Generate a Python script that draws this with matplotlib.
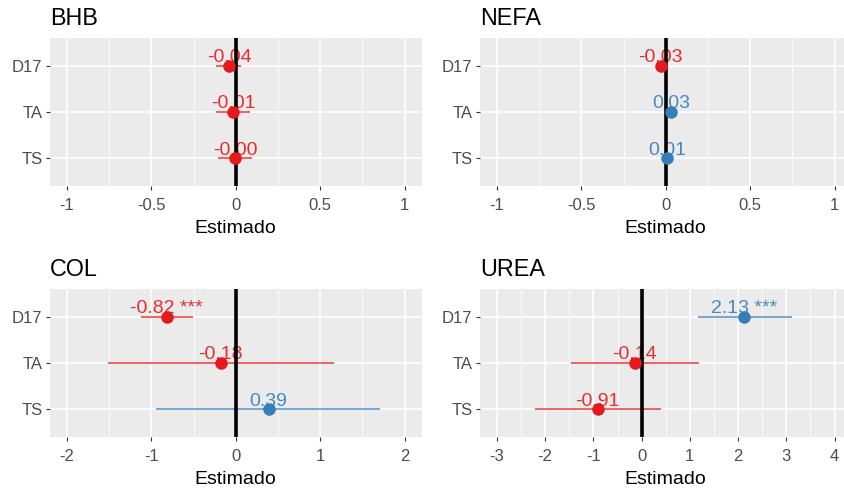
import matplotlib
matplotlib.use("Agg")
import matplotlib.pyplot as plt
import numpy as np

plt.rcParams['font.family'] = ['Liberation Sans', 'DejaVu Sans']

categories = ["TS", "TA", "D17"]  # bottom to top

panels = ["BHB", "NEFA", "COL", "UREA"]
estimates = {
    "BHB":  [-0.003, -0.014, -0.040],
    "NEFA": [0.010, 0.030, -0.030],
    "COL":  [0.39, -0.18, -0.82],
    "UREA": [-0.91, -0.14, 2.13],
}
ci_low = {
    "BHB":  [-0.105, -0.115, -0.115],
    "NEFA": [-0.005, 0.015, -0.045],
    "COL":  [-0.95, -1.51, -1.12],
    "UREA": [-2.22, -1.47, 1.16],
}
ci_high = {
    "BHB":  [0.099, 0.087, 0.034],
    "NEFA": [0.025, 0.045, -0.015],
    "COL":  [1.71, 1.16, -0.51],
    "UREA": [0.41, 1.18, 3.12],
}
stars = {
    "BHB":  ["", "", ""],
    "NEFA": ["", "", ""],
    "COL":  ["", "", "***"],
    "UREA": ["", "", "***"],
}
x_limits = {
    "BHB": (-1, 1), "NEFA": (-1, 1), "COL": (-2, 2), "UREA": (-3, 4),
}
x_ticks = {
    "BHB": [-1, -0.5, 0, 0.5, 1],
    "NEFA": [-1, -0.5, 0, 0.5, 1],
    "COL": [-2, -1, 0, 1, 2],
    "UREA": [-3, -2, -1, 0, 1, 2, 3, 4],
}
x_ticklabels = {
    "BHB": ["-1", "-0.5", "0", "0.5", "1"],
    "NEFA": ["-1", "-0.5", "0", "0.5", "1"],
    "COL": ["-2", "-1", "0", "1", "2"],
    "UREA": ["-3", "-2", "-1", "0", "1", "2", "3", "4"],
}

RED = "#E41A1C"
BLUE = "#377EB8"

W, H = 844, 488
fig = plt.figure(figsize=(W / 100, H / 100), dpi=100)

# panel boxes in pixels: (left, top, right, bottom)
boxes = {
    "BHB": (50, 38, 421.5, 186),
    "NEFA": (480, 38, 851.5, 186),
    "COL": (50, 289, 421.5, 437),
    "UREA": (480, 289, 851.5, 437),
}

for name in panels:
    l, t, r, b = boxes[name]
    ax = fig.add_axes([l / W, 1 - b / H, (r - l) / W, (b - t) / H])
    ax.set_facecolor("#EBEBEB")
    for s in ax.spines.values():
        s.set_visible(False)

    lo_lim, hi_lim = x_limits[name]
    span = hi_lim - lo_lim
    ax.set_xlim(lo_lim - 0.05 * span, hi_lim + 0.05 * span)
    ax.set_ylim(0.4, 3.6)

    ticks = x_ticks[name]
    ax.set_xticks(ticks)
    ax.set_xticklabels(x_ticklabels[name])
    minor = [(ticks[i] + ticks[i + 1]) / 2 for i in range(len(ticks) - 1)]
    ax.set_xticks(minor, minor=True)
    ax.set_yticks([1, 2, 3])
    ax.set_yticklabels(categories)

    ax.grid(which="major", color="white", linewidth=1.1, zorder=0)
    ax.grid(which="minor", axis="x", color="white", linewidth=0.55, zorder=0)
    ax.set_axisbelow(True)
    ax.tick_params(which="major", length=2.9, width=0.8, color="#333333",
                   labelcolor="#4D4D4D", labelsize=12, pad=2.5)
    ax.tick_params(axis="x", which="major", pad=5.5)
    ax.tick_params(which="minor", length=0)

    ax.set_xlabel("Estimado", fontsize=14, color="black", labelpad=5.5)
    ax.set_title(name, loc="left", fontsize=16.8, pad=9.5, color="black")

    ys = np.arange(1, len(categories) + 1)
    est = estimates[name]
    for yi, e, lo, hi, st in zip(ys, est, ci_low[name], ci_high[name], stars[name]):
        col = RED if e < 0 else BLUE
        ax.plot([lo, hi], [yi, yi], color=col, linewidth=1.1, alpha=0.85,
                solid_capstyle="butt", zorder=2)
        label = f"{e:.2f}" + (f" {st}" if st else "")
        ax.annotate(label, (e, yi), xytext=(0, 2.6), textcoords="offset points",
                    ha="center", va="baseline", fontsize=14, color=col,
                    alpha=0.9, zorder=2)
        ax.plot([e], [yi], "o", color=col, markersize=8, zorder=4)
    ax.axvline(0, color="black", linewidth=2.6, zorder=3)

fig.savefig("out.png", dpi=100)
